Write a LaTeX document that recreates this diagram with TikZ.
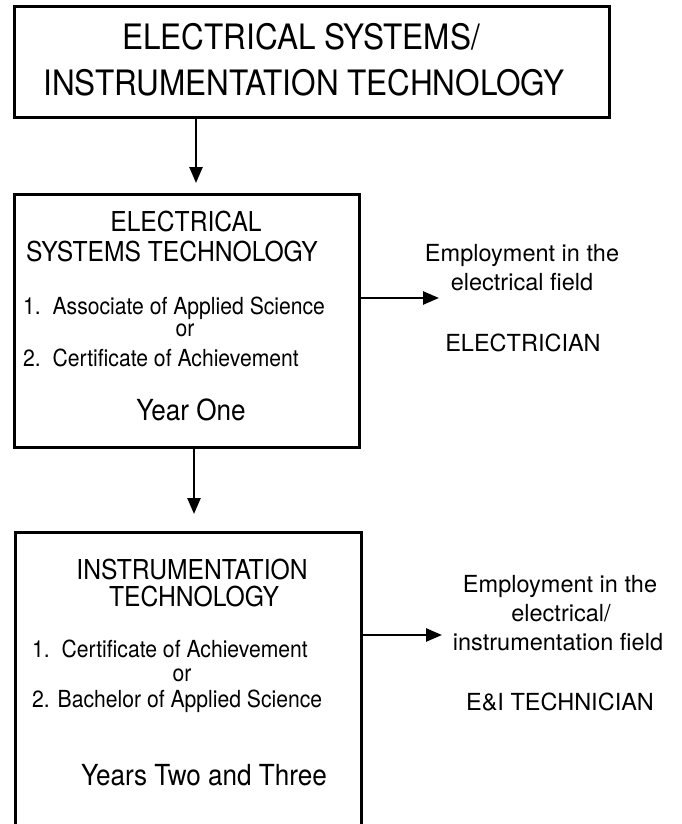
\documentclass[tikz,border=0pt]{standalone}
\usepackage{fontspec}
\setmainfont{TeX Gyre Heros}
\newfontfamily\narrowfont[FakeStretch=0.9]{TeX Gyre Heros}
\usetikzlibrary{arrows.meta}

\begin{document}
\begin{tikzpicture}[x=1pt,y=-1pt,
    box/.style={draw, line width=3pt, inner sep=0pt},
    arr/.style={line width=2.5pt, -{Triangle[length=16pt,width=13pt]}},
    ttl/.style={anchor=base, inner sep=0pt, font=\narrowfont\fontsize{35}{40}\selectfont},
    head/.style={anchor=base, inner sep=0pt, font=\narrowfont\fontsize{27.4}{32}\selectfont},
    item/.style={anchor=base west, inner sep=0pt, font=\narrowfont\fontsize{23.5}{28}\selectfont},
    orr/.style={anchor=base, inner sep=0pt, font=\narrowfont\fontsize{23.5}{28}\selectfont},
    yr/.style={anchor=base, inner sep=0pt, font=\narrowfont\fontsize{29}{34}\selectfont},
    job/.style={anchor=base, inner sep=0pt, font=\fontsize{23.5}{28}\selectfont}]

      \useasboundingbox (0,0) rectangle (681,824);
      \clip (0,0) rectangle (681,824);

      % title
      \node[box, minimum width=595pt, minimum height=111pt] (title) at (311.5,62.5) {};
      \node[ttl] (ttlA) at (301,49.6) {ELECTRICAL SYSTEMS/};
      \node[ttl] (ttlB) at (304,95.6) {INSTRUMENTATION TECHNOLOGY};

      % year one
      \node[box, minimum width=345pt, minimum height=253pt] (est) at (186.5,320.5) {};
      \node[head] (estA) at (186,231.8) {ELECTRICAL};
      \node[head] (estB) at (172,261.8) {SYSTEMS TECHNOLOGY};
      \node[item] (estC) at (23,314) {1.\ \ Associate of Applied Science};
      \node[orr] (estD) at (185,336) {or};
      \node[item] (estE) at (23,366) {2.\ \ Certificate of Achievement};
      \node[yr] (estF) at (191,420.4) {Year One};

      % years two and three
      \node[box, minimum width=346pt, minimum height=320pt] (inst) at (188,692) {};
      \node[head] (instA) at (192,579.8) {INSTRUMENTATION};
      \node[head] (instB) at (194,606.8) {TECHNOLOGY};
      \node[item] (instC) at (32,657) {1.\ \ Certificate of Achievement};
      \node[orr] (instD) at (182,681) {or};
      \node[item] (instE) at (32,707) {2. Bachelor of Applied Science};
      \node[yr] (instF) at (204,785.4) {Years Two and Three};

      % employment
      \node[job] (jobA) at (522,261) {Employment in the};
      \node[job] (jobB) at (522,290) {electrical field};
      \node[job] (jobC) at (523,351) {ELECTRICIAN};
      \node[job] (jobD) at (560,592) {Employment in the};
      \node[job] (jobE) at (561,621) {electrical/};
      \node[job] (jobF) at (558,650) {instrumentation field};
      \node[job] (jobG) at (560,710) {E\&I TECHNICIAN};

      % arrows
      \coordinate (d1) at (196,183);
      \coordinate (d2) at (194,514);
      \coordinate (r1) at (439,298);
      \coordinate (r2) at (442,635);
      \draw[arr] (title.south -| d1) -- (d1);
      \draw[arr] (est.south -| d2) -- (d2);
      \draw[arr] (est.east |- r1) -- (r1);
      \draw[arr] (inst.east |- r2) -- (r2);

    \end{tikzpicture}
\end{document}
